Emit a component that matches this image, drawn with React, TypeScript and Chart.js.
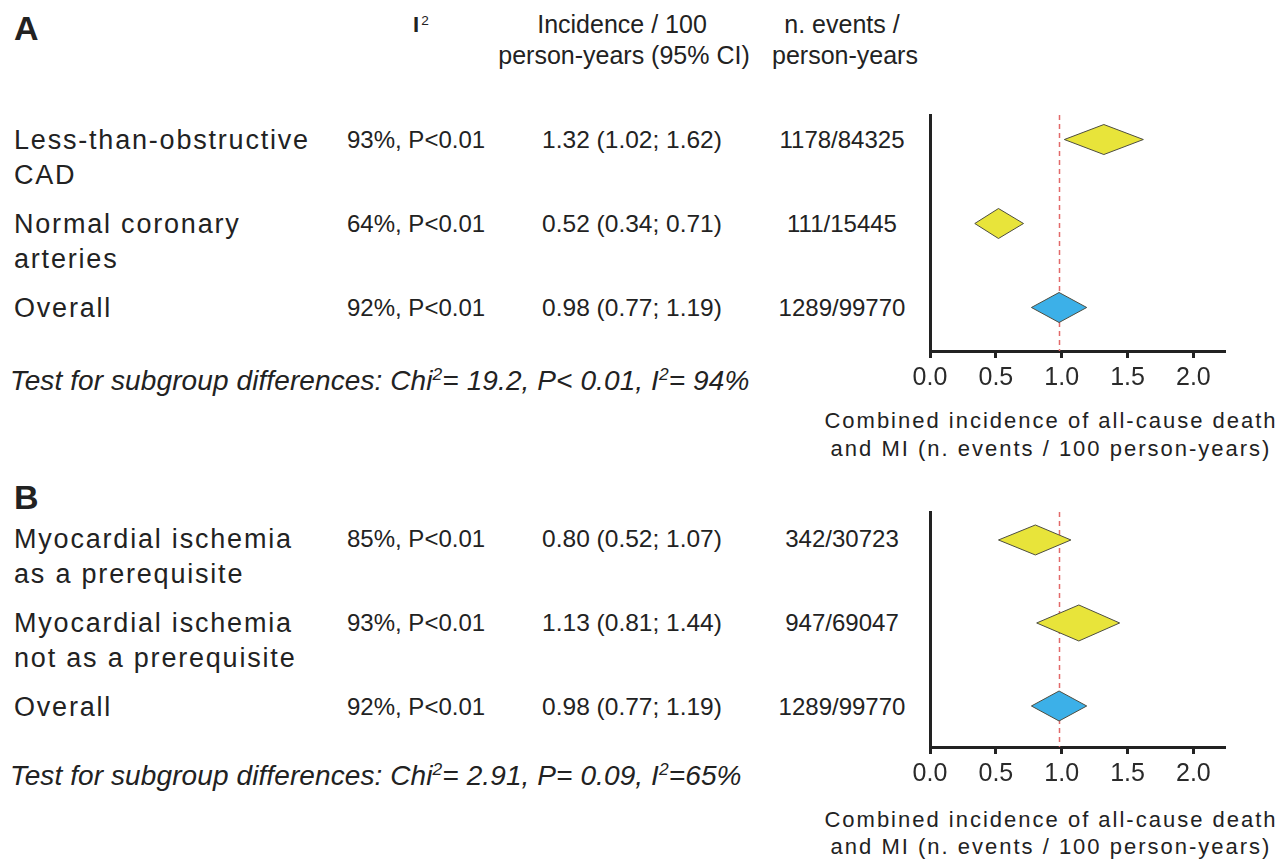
import React, { useEffect, useRef } from "react";
import { Chart, registerables } from "chart.js";

Chart.register(...registerables);

const FONT = "'Liberation Sans', Arial, Helvetica, sans-serif";
const INK = "#222222";

// ---- Panel A: by extent of coronary disease ----
const groupsA = [["Less-than-obstructive", "CAD"], ["Normal coronary", "arteries"], ["Overall"]];
const heterogeneityA = ["93%, P<0.01", "64%, P<0.01", "92%, P<0.01"];
const incidenceA = [1.32, 0.52, 0.98];
const lowerA = [1.02, 0.34, 0.77];
const upperA = [1.62, 0.71, 1.19];
const eventsA = ["1178/84325", "111/15445", "1289/99770"];
const subgroupTestA = "Test for subgroup differences: Chi^2= 19.2, P< 0.01, I^2= 94%";

// ---- Panel B: by ischemia requirement ----
const groupsB = [["Myocardial ischemia", "as a prerequisite"], ["Myocardial ischemia", "not as a prerequisite"], ["Overall"]];
const heterogeneityB = ["85%, P<0.01", "93%, P<0.01", "92%, P<0.01"];
const incidenceB = [0.80, 1.13, 0.98];
const lowerB = [0.52, 0.81, 0.77];
const upperB = [1.07, 1.44, 1.19];
const eventsB = ["342/30723", "947/69047", "1289/99770"];
const subgroupTestB = "Test for subgroup differences: Chi^2= 2.91, P= 0.09, I^2=65%";

// ---- Shared axis ----
const xTicks = [0, 0.5, 1.0, 1.5, 2.0];
const xMax = 2.24;
const axisTitle = ["Combined incidence of all-cause death", "and MI (n. events / 100 person-years)"];
const headerCI = ["Incidence / 100", "person-years (95% CI)"];
const headerEvents = ["n. events /", "person-years"];

type PanelData = {
  letter: string;
  groups: string[][];
  het: string[];
  est: number[];
  lo: number[];
  hi: number[];
  events: string[];
  test: string;
};

type PanelLayout = {
  plotTop: number;
  plotBottom: number;
  yMin: number;
  yMax: number;
  rowY0: number;
  rowStep: number;
  letterY: number;
  testY: number;
  titleY: number[];
  halfH: number[];
};

const panelA: PanelData = {
  letter: "A", groups: groupsA, het: heterogeneityA, est: incidenceA, lo: lowerA, hi: upperA, events: eventsA, test: subgroupTestA,
};
const panelB: PanelData = {
  letter: "B", groups: groupsB, het: heterogeneityB, est: incidenceB, lo: lowerB, hi: upperB, events: eventsB, test: subgroupTestB,
};

const layoutA: PanelLayout = {
  plotTop: 115, plotBottom: 351, yMin: -0.292, yMax: 2.518,
  rowY0: 140, rowStep: 84, letterY: 28, testY: 381, titleY: [421, 449], halfH: [15, 15, 15],
};
const layoutB: PanelLayout = {
  plotTop: 512, plotBottom: 747, yMin: -0.337, yMax: 2.494,
  rowY0: 539, rowStep: 84, letterY: 497, testY: 776, titleY: [820, 847], halfH: [15, 18, 15],
};

const PLOT_LEFT = 930;
const PLOT_RIGHT = 1225;
const Y_AXIS_W = 50;
const X_AXIS_H = 60;
const PAD_TOP = 20;
const PAGE_W = 1285;

const YELLOW = "#e8e43a";
const BLUE = "#3cb0e8";

type TxtProps = {
  x: number;
  y: number;
  size: number;
  align?: "left" | "center";
  bold?: boolean;
  italic?: boolean;
  spacing?: number;
  children: React.ReactNode;
};

function Txt({ x, y, size, align = "left", bold, italic, spacing = 0, children }: TxtProps) {
  const style: React.CSSProperties = {
    position: "absolute",
    top: y - size / 2,
    left: x,
    transform: align === "center" ? "translateX(-50%)" : undefined,
    whiteSpace: "nowrap",
    fontFamily: FONT,
    fontSize: size,
    lineHeight: `${size}px`,
    color: INK,
    fontWeight: bold ? 700 : 400,
    fontStyle: italic ? "italic" : "normal",
    letterSpacing: spacing,
  };
  return <div style={style}>{children}</div>;
}

// "^2" marks a superscript two
function withSup(text: string) {
  const parts = text.split("^2");
  const out: React.ReactNode[] = [];
  parts.forEach((p, i) => {
    out.push(<span key={"t" + i}>{p}</span>);
    if (i < parts.length - 1) {
      out.push(
        <span key={"s" + i} style={{ fontSize: "0.62em", position: "relative", top: "-0.6em" }}>
          2
        </span>
      );
    }
  });
  return out;
}

function ForestPlot({ data, lay }: { data: PanelData; lay: PanelLayout }) {
  const ref = useRef<HTMLCanvasElement | null>(null);
  const canvasLeft = PLOT_LEFT - Y_AXIS_W;
  const canvasTop = lay.plotTop - PAD_TOP;
  const width = PAGE_W - canvasLeft;
  const height = lay.plotBottom - lay.plotTop + PAD_TOP + X_AXIS_H;

  useEffect(() => {
    if (!ref.current) return;
    const overall = data.est[data.est.length - 1];

    const forestPlugin = {
      id: "forestDiamonds",
      beforeDatasetsDraw(chart: any) {
        const { ctx, chartArea, scales } = chart;
        const px = Math.round(scales.x.getPixelForValue(overall)) + 0.5;
        ctx.save();
        ctx.strokeStyle = "#e26a6a";
        ctx.lineWidth = 1.5;
        ctx.setLineDash([5, 4]);
        ctx.beginPath();
        ctx.moveTo(px, chartArea.top);
        ctx.lineTo(px, chartArea.bottom);
        ctx.stroke();
        ctx.restore();
      },
      afterDatasetsDraw(chart: any) {
        const { ctx, scales } = chart;
        const n = data.est.length;
        ctx.save();
        for (let i = 0; i < n; i++) {
          const yc = scales.y.getPixelForValue(i);
          const xl = scales.x.getPixelForValue(data.lo[i]);
          const xm = scales.x.getPixelForValue(data.est[i]);
          const xr = scales.x.getPixelForValue(data.hi[i]);
          const h = lay.halfH[i];
          ctx.beginPath();
          ctx.moveTo(xl, yc);
          ctx.lineTo(xm, yc - h);
          ctx.lineTo(xr, yc);
          ctx.lineTo(xm, yc + h);
          ctx.closePath();
          ctx.fillStyle = i === n - 1 ? BLUE : YELLOW;
          ctx.fill();
          ctx.lineWidth = 1;
          ctx.strokeStyle = "#4d4d40";
          ctx.stroke();
        }
        ctx.restore();
      },
    };

    const chart = new Chart(ref.current, {
      type: "scatter",
      data: {
        datasets: [
          {
            data: data.est.map((v, i) => ({ x: v, y: i })),
            pointRadius: 0,
            pointHoverRadius: 0,
          },
        ],
      },
      options: {
        animation: false,
        responsive: false,
        events: [],
        layout: { padding: { top: PAD_TOP, right: PAGE_W - PLOT_RIGHT, left: 0, bottom: 0 } },
        plugins: { legend: { display: false }, tooltip: { enabled: false } },
        scales: {
          x: {
            type: "linear",
            min: 0,
            max: xMax,
            afterBuildTicks: (s: any) => {
              s.ticks = xTicks.map((value) => ({ value }));
            },
            afterFit: (s: any) => {
              s.height = X_AXIS_H;
            },
            border: { display: true, color: INK, width: 3 },
            grid: {
              display: true,
              drawOnChartArea: false,
              drawTicks: true,
              tickLength: 7,
              tickWidth: 3,
              tickColor: INK,
              color: INK,
            },
            ticks: {
              color: "#2a2a2a",
              font: { size: 25, family: FONT },
              padding: 5,
              maxRotation: 0,
              autoSkip: false,
              callback: (v: any) => Number(v).toFixed(1),
            },
          },
          y: {
            type: "linear",
            reverse: true,
            min: lay.yMin,
            max: lay.yMax,
            afterFit: (s: any) => {
              s.width = Y_AXIS_W;
            },
            border: { display: true, color: INK, width: 3 },
            grid: { display: false },
            ticks: { display: false },
          },
        },
      },
      plugins: [forestPlugin],
    } as any);
    return () => chart.destroy();
  }, [data, lay]);

  return (
    <canvas
      ref={ref}
      width={width}
      height={height}
      style={{ position: "absolute", left: canvasLeft, top: canvasTop, width, height }}
    />
  );
}

function Panel({ data, lay }: { data: PanelData; lay: PanelLayout }) {
  const rows = data.est.map((_, i) => lay.rowY0 + i * lay.rowStep);
  const ci = data.est.map((e, i) => `${e.toFixed(2)} (${data.lo[i].toFixed(2)}; ${data.hi[i].toFixed(2)})`);
  return (
    <>
      <Txt x={14} y={lay.letterY} size={34} bold>
        {data.letter}
      </Txt>
      {data.groups.map((lines, i) =>
        lines.map((line, j) => (
          <Txt key={`g${i}-${j}`} x={14} y={rows[i] + j * 35} size={27} spacing={1.8}>
            {line}
          </Txt>
        ))
      )}
      {data.het.map((h, i) => (
        <Txt key={`h${i}`} x={347} y={rows[i]} size={24}>
          {h}
        </Txt>
      ))}
      {ci.map((c, i) => (
        <Txt key={`c${i}`} x={632} y={rows[i]} size={24.5} align="center">
          {c}
        </Txt>
      ))}
      {data.events.map((ev, i) => (
        <Txt key={`e${i}`} x={842} y={rows[i]} size={24} align="center">
          {ev}
        </Txt>
      ))}
      <Txt x={10} y={lay.testY} size={28} italic spacing={0.1}>
        {withSup(data.test)}
      </Txt>
      {axisTitle.map((t, i) => (
        <Txt key={`t${i}`} x={1051} y={lay.titleY[i]} size={22} align="center" spacing={2}>
          {t}
        </Txt>
      ))}
      <ForestPlot data={data} lay={lay} />
    </>
  );
}

export default function App() {
  return (
    <div
      style={{
        position: "absolute",
        left: 0,
        top: 0,
        width: PAGE_W,
        height: 864,
        background: "#ffffff",
        overflow: "hidden",
        fontFamily: FONT,
      }}
    >
      <Txt x={413} y={25} size={22} bold>
        I<span style={{ fontSize: "0.62em", fontWeight: 400, position: "relative", top: "-0.55em", marginLeft: 2 }}>2</span>
      </Txt>
      <Txt x={622} y={24} size={25} align="center">
        {headerCI[0]}
      </Txt>
      <Txt x={624} y={55} size={25} align="center">
        {headerCI[1]}
      </Txt>
      <Txt x={842} y={24} size={25} align="center">
        {headerEvents[0]}
      </Txt>
      <Txt x={845} y={55} size={25} align="center">
        {headerEvents[1]}
      </Txt>
      <Panel data={panelA} lay={layoutA} />
      <Panel data={panelB} lay={layoutB} />
    </div>
  );
}
